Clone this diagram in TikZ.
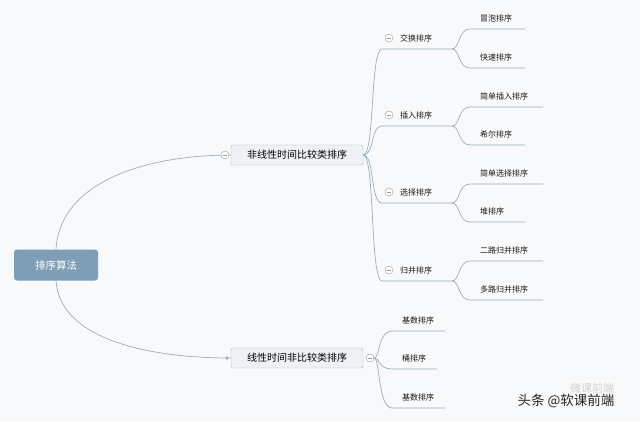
\documentclass[tikz,border=0pt]{standalone}
\usepackage{fontspec}
\newfontfamily\cjk{Noto Sans CJK SC}
\newfontfamily\cjkm{Noto Sans CJK SC Medium}
\definecolor{bg}{HTML}{F8F9FA}
\definecolor{ln}{HTML}{9AAEC0}
\definecolor{rootc}{HTML}{7F9DB6}
\definecolor{boxc}{HTML}{EEF2F6}
\definecolor{boxb}{HTML}{A8B8C8}
\begin{document}
\begin{tikzpicture}[x=1pt,y=-1pt,font=\cjk,
  conn/.style={draw=ln,line width=0.7pt},
  lvl1/.style={draw=boxb,fill=boxc,rounded corners=2pt,minimum width=132pt,minimum height=20pt,font=\cjk\fontsize{10}{11}\selectfont,inner sep=0pt},
  lbl/.style={font=\cjk\fontsize{8}{9}\selectfont,text=black!90,anchor=west,inner sep=0pt},
  tog/.style={circle,draw=gray!80,fill=white,minimum size=8pt,inner sep=0pt,path picture={\draw[gray!80,line width=0.6pt] ([xshift=-2.2pt]path picture bounding box.center)--([xshift=2.2pt]path picture bounding box.center);}}]
\useasboundingbox[fill=bg] (0,0) rectangle (640,421);
\node[fill=rootc,rounded corners=3pt,minimum width=84pt,minimum height=31pt,text=white,font=\cjk\fontsize{10.5}{11}\selectfont,inner sep=0pt] (root) at (56,265) {排序算法};
\node[lvl1] (A) at (297,155) {非线性时间比较类排序};
\node[lvl1] (B) at (297,358) {线性时间非比较类排序};
\draw[conn] (root.north) .. controls (60,180) and (150,155) .. (A.west);
\draw[conn] (root.south) .. controls (60,340) and (150,358) .. (B.west);
\node[tog] (tA) at (225,155) {};
\fill[ln] (227,358) circle (1.8pt);
\node[tog] (tB) at (370,358) {};
% level 2 under A
\foreach \n/\t/\y in {c1/交换排序/38, c2/插入排序/115, c3/选择排序/192, c4/归并排序/270}{
  \node[lbl] (\n) at (400,\y) {\t};
  \node[tog] at (389,\y) {};
  \coordinate (\n s) at (382,\y+11);
  \coordinate (\n e) at (452,\y+11);
  \draw[conn] (A.east) .. controls (375,155) and (370,\y+11) .. (\n s) -- (\n e);
}
% leaves
\foreach \p/\py/\n/\t/\y/\w in {c1/49/l1/冒泡排序/18/525, c1/49/l2/快速排序/57/525, c2/126/l3/简单插入排序/96/543, c2/126/l4/希尔排序/134/525, c3/203/l5/简单选择排序/173/543, c3/203/l6/堆排序/211/525, c4/281/l7/二路归并排序/250/543, c4/281/l8/多路归并排序/289/543}{
  \node[lbl] (\n) at (480,\y) {\t};
  \coordinate (\n s) at (470,\y+11);
  \coordinate (\n e) at (\w,\y+11);
  \draw[conn] (\p e) .. controls (460,\py) and (458,\y+11) .. (\n s) -- (\n e);
}
% leaves under B
\foreach \n/\t/\y/\w in {b1/基数排序/320/445, b2/桶排序/358/437, b3/基数排序/397/445}{
  \node[lbl] (\n) at (402,\y) {\t};
  \coordinate (\n s) at (392,\y+11);
  \coordinate (\n e) at (\w,\y+11);
  \draw[conn] (tB.east) .. controls (380,358) and (378,\y+11) .. (\n s) -- (\n e);
}
\node[text=gray!35,font=\cjk\fontsize{11}{12}\selectfont,inner sep=0pt] (wm1) at (592,388) {微课前端};
\node[text=black!85,font=\cjk\fontsize{13.5}{14}\selectfont,inner sep=0pt] (wm) at (566,401) {头条 @软课前端};
\end{tikzpicture}
\end{document}
